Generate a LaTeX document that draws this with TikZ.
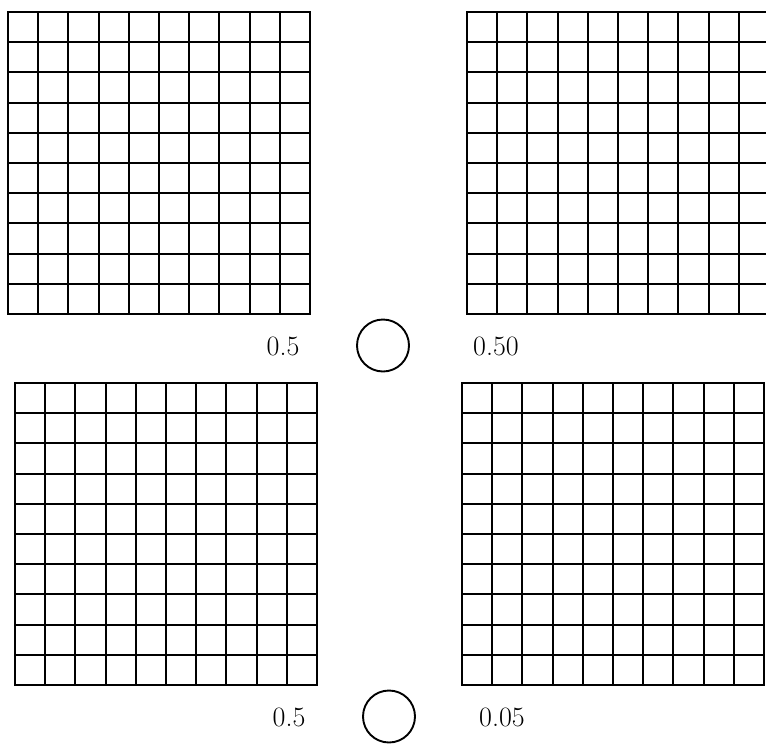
\documentclass[tikz,border=0pt]{standalone}
\usepackage{tikz}

\begin{document}
\begin{tikzpicture}[
    x=1pt, y=-1pt,
    cellline/.style={line width=2pt, line cap=rect},
    ring/.style={draw, circle, minimum size=52pt, inner sep=0pt, line width=1.9pt},
    val/.style={font=\fontsize{28}{30}\selectfont, inner sep=0pt},
]
  \useasboundingbox (0,0) rectangle (766,745);

  % Four 10x10 grids
  \foreach \gx/\gy in {8/12, 467/12, 15/383, 462/383} {
    \foreach \k in {0,...,10} {
      \draw[cellline] (\gx+\k*30.2, \gy) -- (\gx+\k*30.2, \gy+302);
      \draw[cellline] (\gx, \gy+\k*30.2) -- (\gx+302, \gy+\k*30.2);
    }
  }

  % Upper row of values
  \node[val] (lefttop) at (283, 346) {0.5};
  \node[ring] (ringtop) at (383, 345.5) {};
  \node[val] (righttop) at (496, 346) {0.50};

  % Lower row of values
  \node[val] (leftbot) at (289, 717) {0.5};
  \node[ring] (ringbot) at (389, 716.5) {};
  \node[val] (rightbot) at (502, 717) {0.05};
\end{tikzpicture}
\end{document}
